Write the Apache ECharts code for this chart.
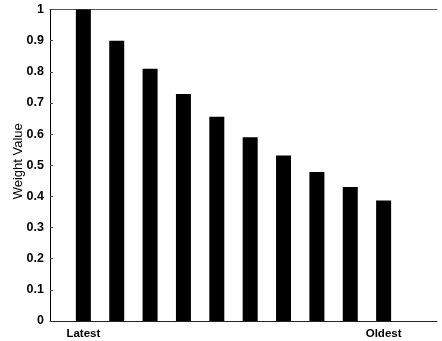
<!DOCTYPE html>
<html>
<head>
<meta charset="utf-8">
<script src="https://cdn.jsdelivr.net/npm/echarts@6/dist/echarts.min.js"></script>
<style>
  html, body { margin: 0; padding: 0; background: #fff; }
  #chart { width: 442px; height: 341px; }
</style>
</head>
<body>
<div id="chart"></div>
<script>
// Bar labels, in order from newest to oldest sample
const categories = ['Latest', '', '', '', '', '', '', '', '', 'Oldest'];
// Weight assigned to each sample
const weights = [1, 0.9, 0.81, 0.729, 0.656, 0.59, 0.531, 0.478, 0.43, 0.387];
// Y-axis tick labels
const yTicks = ['0', '0.1', '0.2', '0.3', '0.4', '0.5', '0.6', '0.7', '0.8', '0.9', '1'];

const chart = echarts.init(document.getElementById('chart'));
const font = 'Liberation Sans, Arial, Helvetica, sans-serif';

// Bars sit at positions 1..N on a numeric x axis
const barData = weights.map((v, i) => [i + 1, v]);
const labelAt = v => {
  const idx = Math.round(v) - 1;
  return (Math.abs(v - Math.round(v)) < 1e-6 && categories[idx]) ? categories[idx] : '';
};

chart.setOption({
  animation: false,
  backgroundColor: '#fff',
  grid: {
    left: 50, right: 5, top: 9.5, bottom: 20,
    containLabel: false, outerBoundsMode: 'none'
  },
  xAxis: [
    {
      type: 'value', min: 0, max: 11.6, interval: 1,
      axisLine: { show: true, lineStyle: { color: '#222', width: 1 } },
      axisTick: { show: false },
      splitLine: { show: false },
      axisLabel: {
        formatter: labelAt, color: '#000', fontFamily: font, fontSize: 11.5,
        fontWeight: 'bold', margin: 7, showMaxLabel: false
      }
    },
    {
      type: 'value', position: 'top', min: 0, max: 11.6, interval: 1,
      axisLine: { show: true, lineStyle: { color: '#555', width: 1 } },
      axisTick: { show: false },
      axisLabel: { show: false },
      splitLine: { show: false }
    }
  ],
  yAxis: {
    type: 'value', min: 0, max: 1, interval: 0.1,
    name: 'Weight Value', nameLocation: 'middle', nameGap: 25, nameRotate: 90,
    nameMoveOverlap: false,
    nameTextStyle: { color: '#000', fontFamily: font, fontSize: 13, padding: [0, 0, 0, 8] },
    axisLine: { show: true, lineStyle: { color: '#000', width: 1 } },
    axisTick: { show: true, inside: true, length: 3, lineStyle: { color: '#444' } },
    splitLine: { show: false },
    axisLabel: {
      formatter: v => yTicks[Math.round(v * 10)] ?? '',
      color: '#000', fontFamily: font, fontSize: 12.5, fontWeight: 'bold', margin: 6
    }
  },
  series: [{
    type: 'bar',
    xAxisIndex: 0,
    data: barData,
    barWidth: 15,
    itemStyle: { color: '#000' }
  }]
});
</script>
</body>
</html>
